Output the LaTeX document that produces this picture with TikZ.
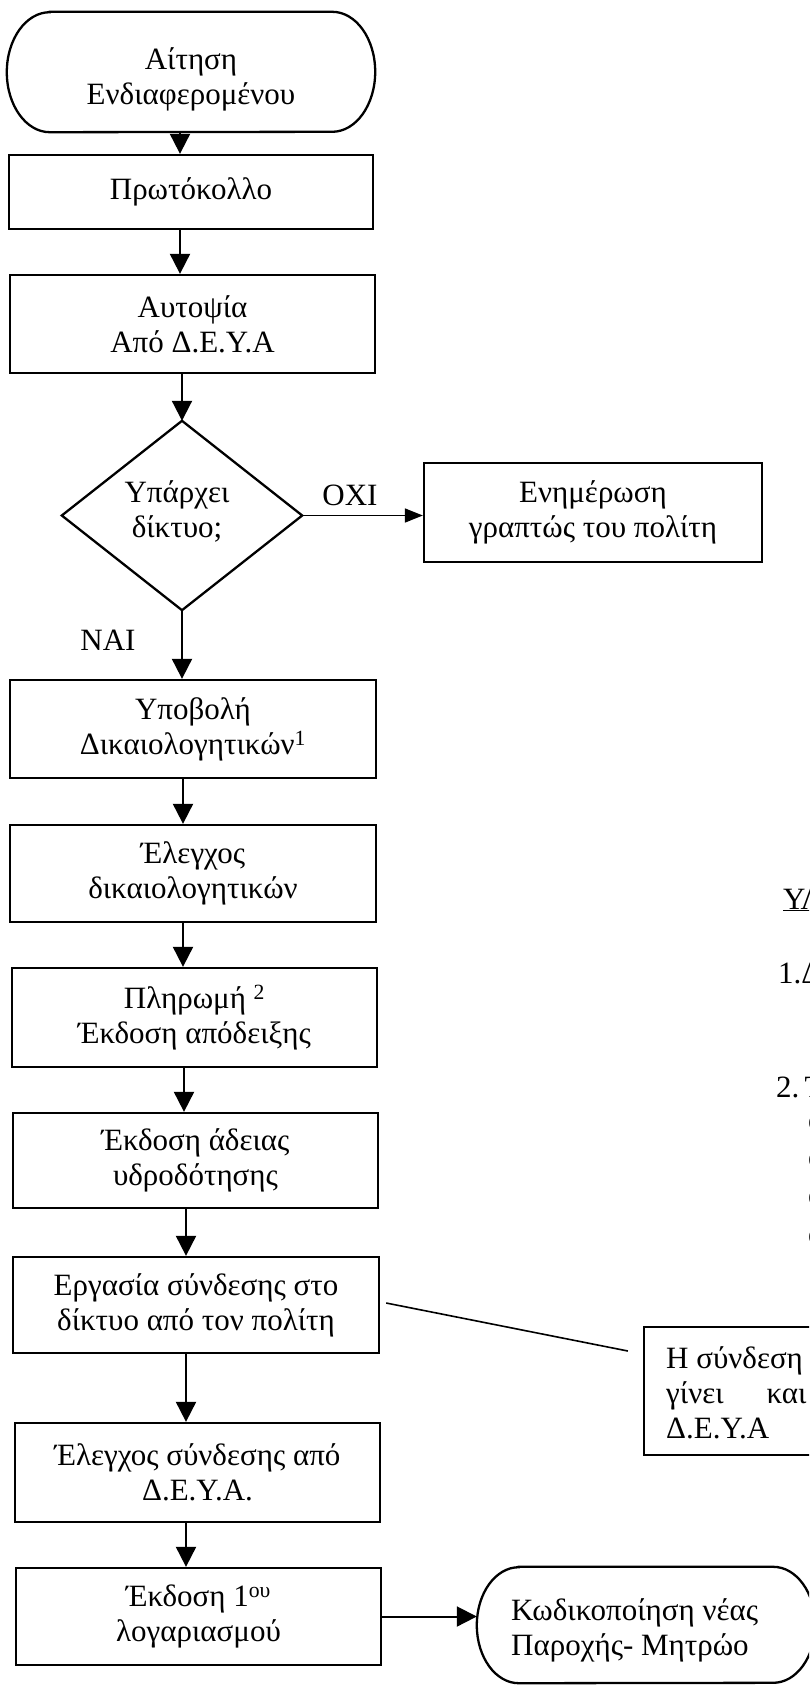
\documentclass[tikz,border=0pt]{standalone}
\usepackage{fontspec}
\setmainfont{Liberation Serif}
\usetikzlibrary{arrows.meta,calc}
\newcommand\myfs{\fontsize{31}{35}\selectfont}
\begin{document}
\begin{tikzpicture}[x=1pt,y=-1pt,
  box/.style={draw,line width=2.3pt,inner sep=0pt,align=center,font=\myfs},
  ghost/.style={inner sep=0pt,align=center,font=\myfs},
  outline/.style={line width=2.3pt},
  lbl/.style={inner sep=0pt,font=\myfs},
  arr/.style={line width=2pt,-{Triangle[width=20pt,length=20pt]}},
  arrsmall/.style={line width=1.6pt,-{Triangle[width=14pt,length=18pt]}},
  lead/.style={line width=1.6pt}]
\useasboundingbox (0,0) rectangle (809,1685);
\fill[white] (0,0) rectangle (809,1685);
\clip (0,0) rectangle (809,1685);

% start terminal
\node[ghost,minimum width=368pt,minimum height=120pt] (start) at (191,72) {};
\node[ghost] (starttxt) at (191,79) {Αίτηση\\Ενδιαφερομένου};
\draw[outline] ([xshift=43pt]start.north west) -- ([xshift=-43pt]start.north east)
  arc[start angle=90,end angle=-90,x radius=43pt,y radius=60pt]
  -- ([xshift=43pt]start.south west)
  arc[start angle=270,end angle=90,x radius=43pt,y radius=60pt] -- cycle;

\node[box,minimum width=364pt,minimum height=74pt] (prot) at (191,192) {Πρωτόκολλο};
\node[box,minimum width=365pt,minimum height=98pt] (auto) at (192.5,324) {Αυτοψία\\Από Δ.Ε.Υ.Α};

% decision
\node[ghost,minimum width=240pt,minimum height=189pt] (dia) at (182,515.5) {};
\node[ghost] (diatxt) at (177,511) {Υπάρχει\\δίκτυο;};
\draw[outline] (dia.north) -- (dia.east) -- (dia.south) -- (dia.west) -- cycle;

\node[box,minimum width=338pt,minimum height=99pt] (enim) at (593,512.5) {Ενημέρωση\\γραπτώς του πολίτη};
\node[lbl] (oxi) at (350,495) {ΟΧΙ};
\node[lbl] (nai) at (108,640) {ΝΑΙ};

\node[box,minimum width=366pt,minimum height=98pt] (ypo) at (193,729) {Υποβολή\\Δικαιολογητικών\textsuperscript{1}};
\node[box,minimum width=366pt,minimum height=97pt] (elx) at (193,873.5) {Έλεγχος\\δικαιολογητικών};
\node[box,minimum width=365pt,minimum height=99pt] (pay) at (194.5,1017.5) {Πληρωμή \textsuperscript{2}\\Έκδοση απόδειξης};
\node[box,minimum width=365pt,minimum height=95pt] (adeia) at (195.5,1160.5) {Έκδοση άδειας\\υδροδότησης};
\node[box,minimum width=366pt,minimum height=96pt] (erg) at (196,1305) {Εργασία σύνδεσης στο\\δίκτυο από τον πολίτη};
\node[box,minimum width=365pt,minimum height=99pt] (elx2) at (197.5,1472.5) {Έλεγχος σύνδεσης από\\Δ.Ε.Υ.Α.};
\node[box,minimum width=365pt,minimum height=97pt] (ekd) at (198.5,1616.5) {Έκδοση 1\textsuperscript{ου}\\λογαριασμού};

% final terminal
\node[ghost,minimum width=338pt,minimum height=116pt] (fin) at (646,1625) {};
\node[lbl,anchor=west,align=left] (fintxt) at (511,1630) {Κωδικοποίηση νέας\\Παροχής- Μητρώο};
\draw[outline] ([xshift=42pt]fin.north west) -- ([xshift=-42pt]fin.north east)
  arc[start angle=90,end angle=-90,x radius=42pt,y radius=58pt]
  -- ([xshift=42pt]fin.south west)
  arc[start angle=270,end angle=90,x radius=42pt,y radius=58pt] -- cycle;

% side note box
\node[draw,line width=2.3pt,inner sep=0pt,minimum width=256pt,minimum height=128pt] (note) at (772,1391) {};
\node[lbl,anchor=west,align=left] (notetxt) at (666,1393) {Η σύνδεση\\γίνει\hspace{43pt}και\\Δ.Ε.Υ.Α};

% notes at the right edge
\node[lbl,anchor=west] (n0) at (783,900) {\underline{ΥΛ}};
\node[lbl,anchor=west] (n1) at (778,973) {1.Δ};
\node[lbl,anchor=west] (n2) at (776,1087) {2.\,Τ};
\node[lbl,anchor=west] (n3) at (808,1123) {ο};
\node[lbl,anchor=west] (n4) at (808,1160) {ο};
\node[lbl,anchor=west] (n5) at (808,1198) {ο};
\node[lbl,anchor=west] (n6) at (808,1237) {ο};

% connectors
\coordinate (xa) at (180,0);
\coordinate (xb) at (183,0);
\coordinate (xc) at (184,0);
\coordinate (xd) at (186,0);
\draw[arr] (start.south -| xa) -- (prot.north -| xa);
\draw[arr] (prot.south -| xa) -- (auto.north -| xa);
\draw[arr] (auto.south -| dia.north) -- (dia.north);
\draw[arr] (dia.south) -- (ypo.north -| dia.south);
\draw[arr] (ypo.south -| xb) -- (elx.north -| xb);
\draw[arr] (elx.south -| xb) -- (pay.north -| xb);
\draw[arr] (pay.south -| xc) -- (adeia.north -| xc);
\draw[arr] (adeia.south -| xd) -- (erg.north -| xd);
\draw[arr] (erg.south -| xd) -- (elx2.north -| xd);
\draw[arr] (elx2.south -| xd) -- (ekd.north -| xd);
\draw[arr] (ekd.east) -- (fin.west |- ekd.east);
\draw[arrsmall] (dia.east) -- (enim.west |- dia.east);
\draw[lead] ($(erg.east)+(6,-2)$) -- ($(note.west)+(-15,-40)$);
\end{tikzpicture}
\end{document}
